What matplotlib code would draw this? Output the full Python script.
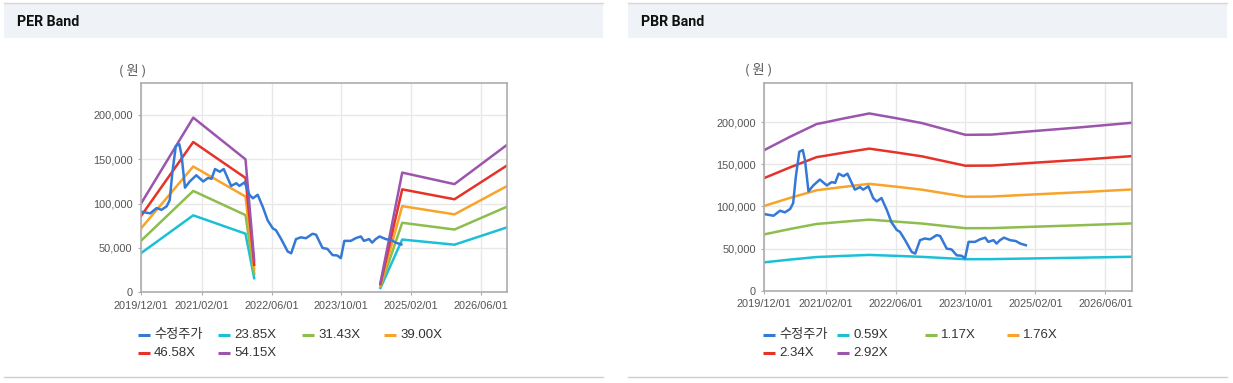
import numpy as np
import matplotlib
matplotlib.use("Agg")
import matplotlib.pyplot as plt
from matplotlib.lines import Line2D
from matplotlib.patches import Rectangle

# ---------------- data ----------------
# x values are months since 2019/12/01
tick_months = [0, 14, 30, 46, 62, 78]
tick_labels = ["2019/12/01", "2021/02/01", "2022/06/01", "2023/10/01", "2025/02/01", "2026/06/01"]

price_months = [0.0, 2.1, 3.6, 4.7, 5.9, 6.6, 7.2, 8.0, 8.8, 9.3, 10.1, 11.2, 12.7, 14.3,
                15.4, 16.2, 17.0, 18.1, 19.0, 20.7, 21.9, 22.6, 23.8, 24.9, 25.7, 26.8,
                28.0, 29.1, 30.3, 31.0, 32.2, 33.7, 34.5, 35.6, 36.7, 37.9, 39.4, 40.2,
                41.7, 42.8, 44.0, 45.1, 45.9, 46.7, 48.2, 49.3, 50.5, 51.2, 52.4, 53.1,
                53.9, 54.8, 56.2, 57.5, 58.5, 59.8]
price = [91000, 89000, 95000, 93000, 97000, 104000, 135000, 165000, 167000, 155000,
         118000, 125000, 132000, 125000, 129000, 128000, 139000, 136000, 139000, 120000,
         123000, 120000, 124000, 110000, 106000, 110000, 96000, 81000, 72000, 70000,
         60000, 46000, 44000, 60000, 62000, 61000, 66000, 65000, 50000, 49000, 42000,
         41500, 38500, 58000, 58000, 61000, 63000, 58000, 60000, 56000, 60000, 63000,
         60000, 59000, 56000, 54000]

per_labels = ["23.85X", "31.43X", "39.00X", "46.58X", "54.15X"]
per_months = [0, 12, 24, 26, 40, 55, 60, 72, 84]
nan = np.nan
per_2385 = [44100, 86800, 66100, 15900, nan, 4800, 59500, 53700, 73100]
per_3143 = [58100, 114300, 87100, 20900, nan, 6300, 78400, 70800, 96400]
per_3900 = [72000, 141900, 108000, 25900, nan, 7800, 97200, 87900, 119600]
per_4658 = [86000, 169500, 129000, 31000, nan, 9300, 116100, 104900, 142800]
per_5415 = [100000, 197000, 150000, 36000, nan, 10800, 135000, 122000, 166000]

pbr_labels = ["0.59X", "1.17X", "1.76X", "2.34X", "2.92X"]
pbr_months = [0, 6, 12, 14, 18, 24, 30, 36, 46, 52, 60, 72, 84]
pbr_059 = [33700, 37000, 40000, 40400, 41300, 42500, 41400, 40200, 37400, 37500, 38200, 39200, 40300]
pbr_117 = [66900, 73400, 79300, 80100, 81900, 84400, 82100, 79800, 74200, 74300, 75700, 77700, 79900]
pbr_176 = [100700, 110400, 119300, 120600, 123200, 126900, 123600, 120000, 111600, 111800, 113900, 116900, 120200]
pbr_234 = [133800, 146700, 158700, 160300, 163800, 168700, 164300, 159600, 148400, 148600, 151400, 155400, 159800]
pbr_292 = [167000, 183100, 198000, 200000, 204400, 210500, 205000, 199100, 185100, 185400, 188900, 193900, 199400]

price_label = "수정주가"
colors = ["#3579d6", "#1cc0d6", "#8dbd4c", "#f8a32a", "#e6332a", "#9b55ad"]

# ---------------- figure ----------------
W, H = 1233, 383
fig = plt.figure(figsize=(W / 100, H / 100), dpi=100)
fig.patch.set_facecolor("white")

LAT = ["Liberation Sans", "Noto Sans CJK KR", "DejaVu Sans"]


def fx(px):
    return px / W


def fy(py):
    return (H - py) / H


# panel decorations
for x0, x1, title in [(4, 603, "PER Band"), (628, 1227, "PBR Band")]:
    fig.add_artist(Rectangle((fx(x0), fy(38)), fx(x1 - x0), 34 / H, transform=fig.transFigure,
                             facecolor="#eff2f7", edgecolor="none", zorder=0))
    fig.add_artist(Line2D([fx(x0), fx(x1)], [fy(3), fy(3)], transform=fig.transFigure,
                          color="#d8d8d8", lw=1))
    fig.add_artist(Line2D([fx(x0), fx(x1)], [fy(377), fy(377)], transform=fig.transFigure,
                          color="#cfcfcf", lw=1))
    fig.text(fx(x0 + 13), fy(22), title, fontsize=10.2, fontweight="bold", family=["Roboto", "DejaVu Sans"],
             ha="left", va="center", color="#111111")


def style_axes(ax, ymax):
    ax.set_xlim(0, 84)
    ax.set_ylim(0, ymax)
    ax.set_xticks(tick_months)
    ax.set_xticklabels(tick_labels)
    ax.set_yticks([0, 50000, 100000, 150000, 200000])
    ax.set_yticklabels(["0", "50,000", "100,000", "150,000", "200,000"])
    ax.grid(True, color="#e8e8e8", lw=1)
    ax.set_axisbelow(True)
    for s in ax.spines.values():
        s.set_color("#adadad")
        s.set_linewidth(1.2)
    ax.tick_params(axis="both", length=2.5, width=0.8, color="#adadad", labelsize=7.9,
                   labelcolor="#555555", pad=3.5)
    for lab in ax.get_xticklabels() + ax.get_yticklabels():
        lab.set_family(LAT)


def legend(x_positions, labels, row_y):
    for i, (lab, col) in enumerate(zip(labels, colors)):
        row = i // 4
        col_i = i % 4
        lx = x_positions[col_i]
        y = row_y[row]
        fig.add_artist(Line2D([fx(lx), fx(lx + 12)], [fy(y), fy(y)], transform=fig.transFigure,
                              color=col, lw=2.2, solid_capstyle="butt"))
        fig.text(fx(lx + 16), fy(y), lab, fontsize=9.5, family=LAT, ha="left", va="center",
                 color="#333333")


# ---- PER axes ----
ax1 = fig.add_axes([fx(141), fy(292.3), fx(506.7 - 141), (292.3 - 83.3) / H])
style_axes(ax1, 235700)
for vals, c in zip([per_2385, per_3143, per_3900, per_4658, per_5415], colors[1:]):
    ax1.plot(per_months, vals, color=c, lw=1.8)
ax1.plot(price_months, price, color=colors[0], lw=1.8)
fig.text(fx(133), fy(71), "( 원 )", fontsize=9.5, family=["Noto Sans CJK KR", "DejaVu Sans"],
         ha="center", va="center", color="#555555")
legend([138, 218, 302, 384], [price_label] + per_labels, [335, 353])

# ---- PBR axes ----
ax2 = fig.add_axes([fx(764.3), fy(290.7), fx(1131.7 - 764.3), (290.7 - 83.3) / H])
style_axes(ax2, 246300)
for vals, c in zip([pbr_059, pbr_117, pbr_176, pbr_234, pbr_292], colors[1:]):
    ax2.plot(pbr_months, vals, color=c, lw=1.8)
ax2.plot(price_months, price, color=colors[0], lw=1.8)
fig.text(fx(759), fy(70), "( 원 )", fontsize=9.5, family=["Noto Sans CJK KR", "DejaVu Sans"],
         ha="center", va="center", color="#555555")
legend([763, 837, 925, 1007], [price_label] + pbr_labels, [335, 353])

fig.savefig("out.png", dpi=100)
